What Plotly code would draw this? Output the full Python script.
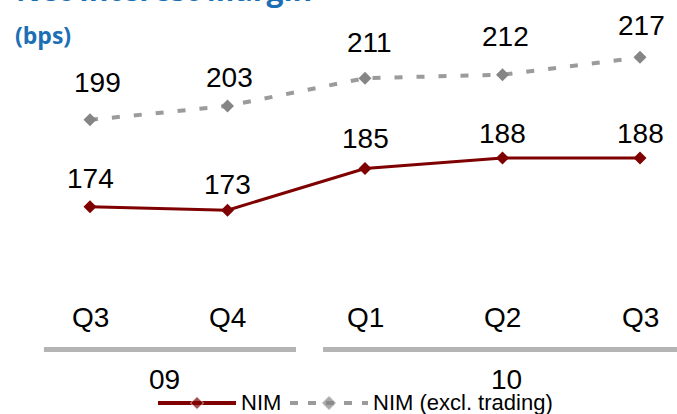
import plotly.graph_objects as go

quarters = ["Q3", "Q4", "Q1", "Q2", "Q3"]
years = ["09", "10"]
year_groups = [(0, 1), (2, 4)]
nim = [174, 173, 185, 188, 188]
nim_excl = [199, 203, 211, 212, 217]
series_names = ["NIM", "NIM (excl. trading)"]

# label offsets (pixels, layout only)
nim_label_dy = [28, 26, 30, 25, 25]
nim_label_dx = [0, 0, 0, 0, 0]
excl_label_dy = [37, 28, 36, 38, 32]
excl_label_dx = [7, 2, 4, 3, 1]

W, H = 677, 414
xs = list(range(len(quarters)))
RED = "#7f0000"
GRAY_LINE = "#9b9b9b"
GRAY_MK = "#858585"
BLUE = "#1d6fb5"
NUMFONT = dict(family="Liberation Sans, Arial", size=28, color="#000000")

fig = go.Figure()
fig.add_trace(go.Scatter(
    x=xs, y=nim, mode="lines+markers", name=series_names[0], showlegend=False,
    line=dict(color=RED, width=3),
    marker=dict(symbol="diamond", size=10, color=RED),
    cliponaxis=False,
))
fig.add_trace(go.Scatter(
    x=xs, y=nim_excl, mode="lines+markers", name=series_names[1], showlegend=False,
    line=dict(color=GRAY_LINE, width=4, dash="8px,14px"),
    marker=dict(symbol="diamond", size=10, color=GRAY_MK),
    cliponaxis=False,
))

annotations = []
for series, dys, dxs in ((nim, nim_label_dy, nim_label_dx), (nim_excl, excl_label_dy, excl_label_dx)):
    for i, v in enumerate(series):
        annotations.append(dict(x=i, y=v, xref="x", yref="y", text=str(v), showarrow=False,
                                yanchor="middle", yshift=dys[i], xshift=dxs[i], font=NUMFONT))
for i, q in enumerate(quarters):
    annotations.append(dict(x=i, y=1 - 317 / H, xref="x", yref="paper", text=q,
                            showarrow=False, yanchor="middle", font=NUMFONT))

shapes = []
group_pad = [(-0.335, 0.498), (-0.305, 0.3)]
year_pos = [0.545, 3.03]
for (a, b), yl, (pl, pr), yp in zip(year_groups, years, group_pad, year_pos):
    shapes.append(dict(type="line", xref="x", yref="paper", x0=a + pl, x1=b + pr,
                       y0=1 - 349.5 / H, y1=1 - 349.5 / H,
                       line=dict(color="#b4b4b4", width=5)))
    annotations.append(dict(x=yp, y=1 - 379 / H, xref="x", yref="paper",
                            text=yl, showarrow=False, yanchor="middle", font=NUMFONT))

# Title
annotations.append(dict(x=14 / W, y=1.0, xref="paper", yref="paper",
                        text="<b>Net Interest Margin</b>", showarrow=False,
                        xanchor="left", yanchor="bottom", yshift=-12,
                        font=dict(family="Open Sans", size=30, color=BLUE)))
annotations.append(dict(x=13 / W, y=1 - 35 / H, xref="paper", yref="paper",
                        text="<b>(bps)</b>", showarrow=False,
                        xanchor="left", yanchor="middle",
                        font=dict(family="Open Sans", size=23, color=BLUE)))

# Manual legend (pixel overlay axes)
LEG_Y = 403
leg_items = [
    dict(x0=158, x1=236, tx=239, color=RED, mk=RED, width=4, dash="solid"),
    dict(x0=290, x1=368, tx=371, color=GRAY_LINE, mk=GRAY_MK, width=4, dash="8px,10px"),
]
for name, it in zip(series_names, leg_items):
    mid = (it["x0"] + it["x1"]) / 2
    fig.add_trace(go.Scatter(
        x=[it["x0"], mid, it["x1"]], y=[LEG_Y] * 3, xaxis="x2", yaxis="y2",
        mode="lines+markers", showlegend=False, hoverinfo="skip",
        line=dict(color=it["color"], width=it["width"], dash=it["dash"]),
        marker=dict(symbol="diamond", size=[0, 10, 0], color=it["mk"]),
        cliponaxis=False,
    ))
    annotations.append(dict(x=it["tx"] / W, y=1 - (LEG_Y - 1) / H, xref="paper", yref="paper",
                            text=name, showarrow=False, xanchor="left", yanchor="middle",
                            font=dict(family="Liberation Sans, Arial", size=22,
                                      color="#000000")))

fig.update_layout(
    width=W, height=H,
    margin=dict(l=0, r=0, t=0, b=0),
    paper_bgcolor="white", plot_bgcolor="white",
    xaxis=dict(range=[-90 / 137.5, 4 + 37 / 137.5], visible=False, fixedrange=True),
    yaxis=dict(range=[114.33, 233.5], visible=False, fixedrange=True),
    xaxis2=dict(range=[0, W], visible=False, overlaying="x", fixedrange=True),
    yaxis2=dict(range=[H, 0], visible=False, overlaying="y", fixedrange=True),
    showlegend=False,
    annotations=annotations,
    shapes=shapes,
)

fig.write_html("out.html", config={"displayModeBar": False},
               post_script="document.body.style.margin='0';document.body.style.overflow='hidden';")
